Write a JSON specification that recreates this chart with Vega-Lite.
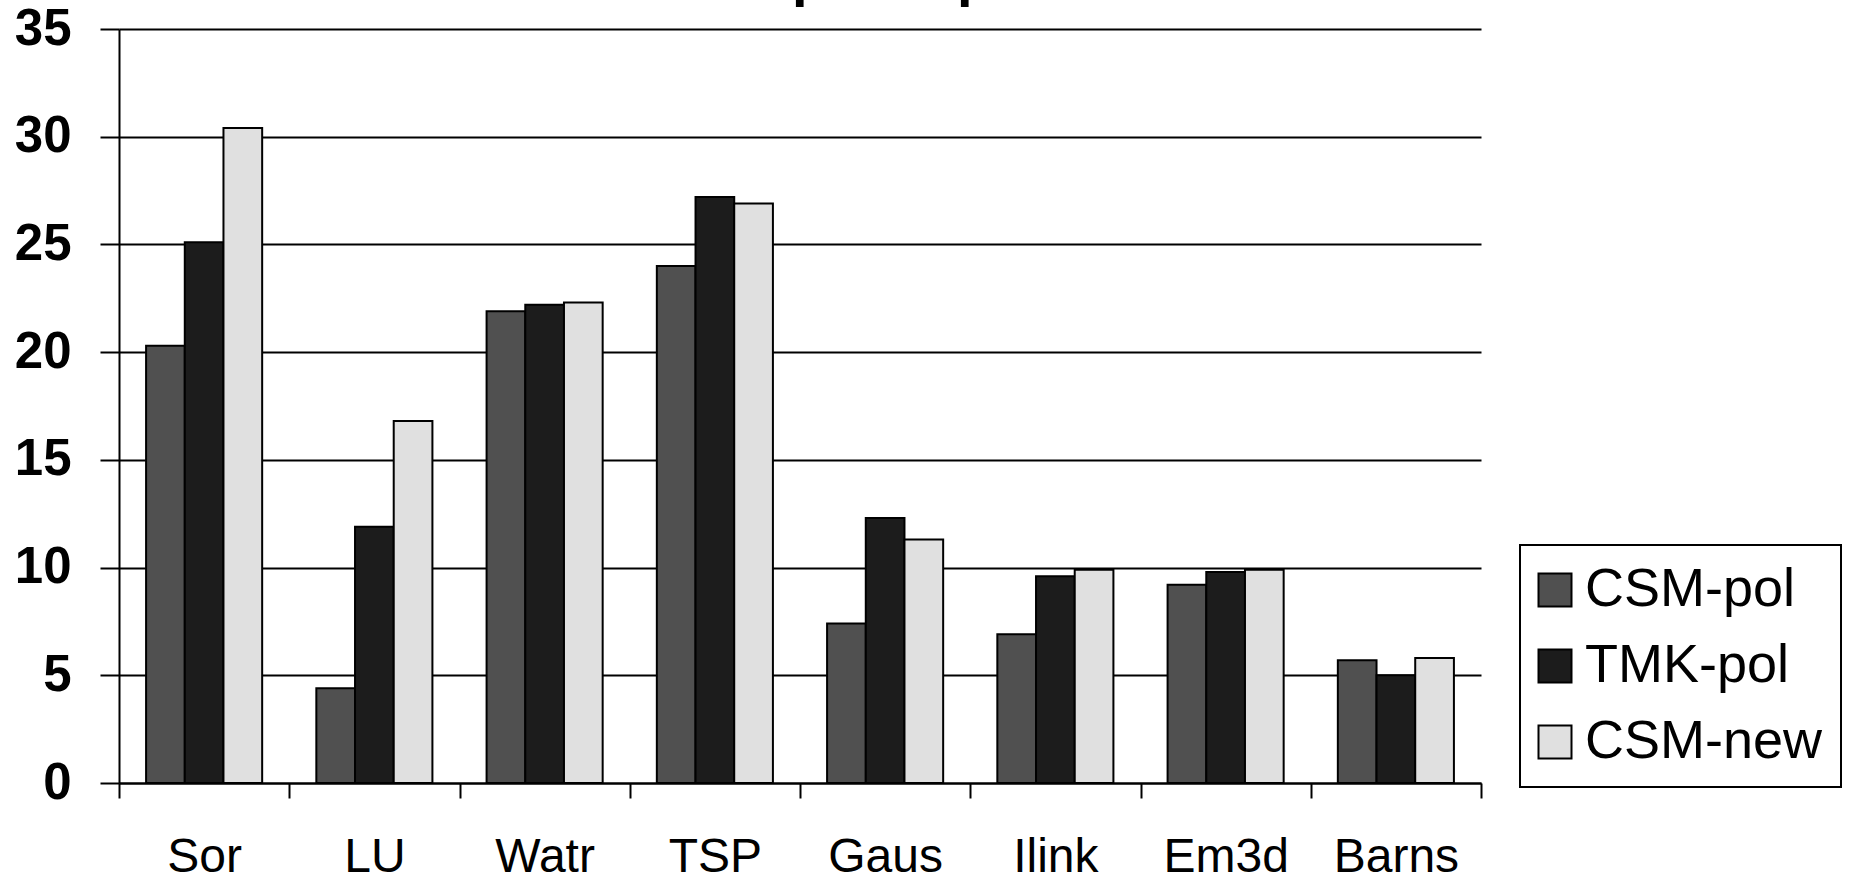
{
  "$schema": "https://vega.github.io/schema/vega-lite/v6.json",
  "autosize": {"type": "none"},
  "padding": {"left": 119, "top": 29, "right": 370, "bottom": 97},
  "width": 1362,
  "height": 754,
  "background": "white",
  "title": {
    "text": "Speedup",
    "font": "Liberation Sans",
    "fontSize": 56,
    "fontWeight": "bold",
    "color": "black",
    "frame": "group",
    "anchor": "middle",
    "baseline": "alphabetic",
    "offset": -48,
    "dx": 73
  },
  "data": {
    "values": [
      {"bench": "Sor", "series": "CSM-pol", "speedup": 20.3},
      {"bench": "Sor", "series": "TMK-pol", "speedup": 25.1},
      {"bench": "Sor", "series": "CSM-new", "speedup": 30.4},
      {"bench": "LU", "series": "CSM-pol", "speedup": 4.4},
      {"bench": "LU", "series": "TMK-pol", "speedup": 11.9},
      {"bench": "LU", "series": "CSM-new", "speedup": 16.8},
      {"bench": "Watr", "series": "CSM-pol", "speedup": 21.9},
      {"bench": "Watr", "series": "TMK-pol", "speedup": 22.2},
      {"bench": "Watr", "series": "CSM-new", "speedup": 22.3},
      {"bench": "TSP", "series": "CSM-pol", "speedup": 24.0},
      {"bench": "TSP", "series": "TMK-pol", "speedup": 27.2},
      {"bench": "TSP", "series": "CSM-new", "speedup": 26.9},
      {"bench": "Gaus", "series": "CSM-pol", "speedup": 7.4},
      {"bench": "Gaus", "series": "TMK-pol", "speedup": 12.3},
      {"bench": "Gaus", "series": "CSM-new", "speedup": 11.3},
      {"bench": "Ilink", "series": "CSM-pol", "speedup": 6.9},
      {"bench": "Ilink", "series": "TMK-pol", "speedup": 9.6},
      {"bench": "Ilink", "series": "CSM-new", "speedup": 9.9},
      {"bench": "Em3d", "series": "CSM-pol", "speedup": 9.2},
      {"bench": "Em3d", "series": "TMK-pol", "speedup": 9.8},
      {"bench": "Em3d", "series": "CSM-new", "speedup": 9.9},
      {"bench": "Barns", "series": "CSM-pol", "speedup": 5.7},
      {"bench": "Barns", "series": "TMK-pol", "speedup": 5.0},
      {"bench": "Barns", "series": "CSM-new", "speedup": 5.8}
    ]
  },
  "mark": {"type": "bar", "stroke": "black", "strokeWidth": 2, "opacity": 1},
  "encoding": {
    "x": {
      "field": "bench",
      "type": "nominal",
      "sort": null,
      "scale": {"paddingInner": 0, "paddingOuter": 0},
      "axis": {
        "title": null,
        "labelAngle": 0,
        "labelFont": "Liberation Sans",
        "labelFontSize": 48,
        "labelColor": "black",
        "labelPadding": 35,
        "tickBand": "extent",
        "tickSize": 15,
        "tickWidth": 2,
        "tickColor": "black",
        "domainColor": "black",
        "domainWidth": 2,
        "grid": false
      }
    },
    "xOffset": {
      "field": "series",
      "type": "nominal",
      "sort": ["CSM-pol", "TMK-pol", "CSM-new"],
      "scale": {"paddingInner": 0, "paddingOuter": 0.7}
    },
    "y": {
      "field": "speedup",
      "type": "quantitative",
      "scale": {"domain": [0, 35], "nice": false, "zero": true},
      "axis": {
        "title": null,
        "values": [0, 5, 10, 15, 20, 25, 30, 35],
        "labelFont": "Liberation Sans",
        "labelFontSize": 51,
        "labelFontWeight": "bold",
        "labelColor": "black",
        "labelPadding": 29,
        "tickSize": 19,
        "tickWidth": 2,
        "tickColor": "black",
        "domainColor": "black",
        "domainWidth": 2,
        "grid": true,
        "gridColor": "black",
        "gridWidth": 2,
        "gridOpacity": 1
      }
    },
    "color": {
      "field": "series",
      "type": "nominal",
      "sort": ["CSM-pol", "TMK-pol", "CSM-new"],
      "scale": {"domain": ["CSM-pol", "TMK-pol", "CSM-new"], "range": ["#505050", "#1c1c1c", "#e0e0e0"]},
      "legend": {
        "title": null,
        "orient": "none",
        "legendX": 1401,
        "legendY": 516,
        "strokeColor": "black",
        "fillColor": "white",
        "padding": 18,
        "symbolType": "square",
        "symbolSize": 1089,
        "symbolOffset": -10,
        "symbolStrokeColor": "black",
        "symbolStrokeWidth": 2,
        "symbolOpacity": 1,
        "labelFont": "Liberation Sans",
        "labelFontSize": 54,
        "labelColor": "black",
        "labelOffset": 3,
        "rowPadding": 22,
        "labelLimit": 400
      }
    }
  },
  "config": {
    "view": {"stroke": null},
    "legend": {"strokeWidth": 2}
  }
}
